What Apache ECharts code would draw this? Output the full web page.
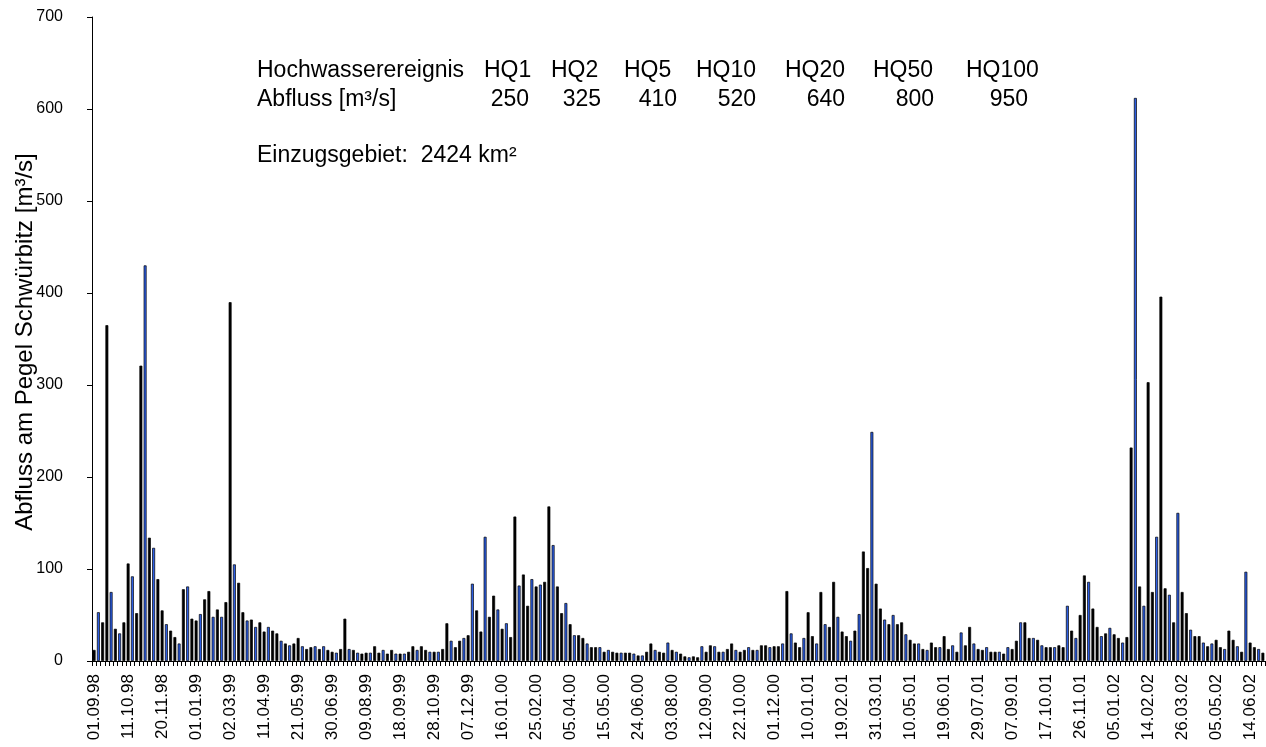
<!DOCTYPE html>
<html>
<head>
<meta charset="utf-8">
<script src="https://cdn.jsdelivr.net/npm/echarts@6/dist/echarts.min.js"></script>
<style>
  html, body { margin: 0; padding: 0; background: #fff; }
  #chart { width: 1266px; height: 747px; }
</style>
</head>
<body>
<div id="chart"></div>
<script>
// Date labels, one for every 8th five-day value
const dateLabels = [
  '01.09.98', '11.10.98', '20.11.98', '01.01.99', '02.03.99', '11.04.99', '21.05.99',
  '30.06.99', '09.08.99', '18.09.99', '28.10.99', '07.12.99', '16.01.00', '25.02.00',
  '05.04.00', '15.05.00', '24.06.00', '03.08.00', '12.09.00', '22.10.00', '01.12.00',
  '10.01.01', '19.02.01', '31.03.01', '10.05.01', '19.06.01', '29.07.01', '07.09.01',
  '17.10.01', '26.11.01', '05.01.02', '14.02.02', '26.03.02', '05.05.02', '14.06.02'
];

// Discharge at gauge Schwürbitz [m³/s]
const flow = [
  12, 53, 42, 365, 75, 35, 30, 42,
  106, 92, 52, 321, 430, 134, 123, 89,
  55, 40, 33, 26, 19, 78, 81, 46,
  44, 51, 67, 76, 48, 56, 48, 64,
  390, 105, 85, 53, 44, 45, 37, 42,
  32, 37, 33, 30, 22, 19, 17, 19,
  25, 16, 13, 15, 16, 13, 16, 12,
  10, 9, 13, 46, 13, 12, 9, 8,
  9, 9, 16, 9, 12, 8, 12, 8,
  8, 8, 10, 16, 12, 16, 12, 10,
  10, 10, 13, 41, 22, 15, 22, 25,
  28, 84, 55, 32, 135, 48, 71, 56,
  35, 41, 26, 157, 82, 94, 60, 89,
  81, 83, 86, 168, 126, 81, 52, 63,
  40, 28, 28, 25, 19, 15, 15, 15,
  10, 12, 10, 9, 9, 9, 9, 8,
  6, 6, 10, 19, 12, 10, 9, 20,
  12, 10, 8, 5, 4, 5, 4, 16,
  10, 17, 16, 10, 10, 13, 19, 12,
  10, 12, 15, 12, 12, 17, 17, 15,
  16, 16, 19, 76, 30, 20, 15, 25,
  53, 27, 19, 75, 40, 37, 86, 48,
  32, 27, 22, 33, 51, 119, 101, 249,
  84, 57, 45, 40, 50, 40, 42, 29,
  23, 19, 19, 13, 12, 20, 15, 15,
  27, 13, 17, 10, 31, 17, 37, 19,
  13, 12, 15, 10, 10, 10, 8, 15,
  13, 22, 42, 42, 25, 25, 23, 17,
  15, 15, 15, 17, 15, 60, 33, 25,
  50, 93, 86, 57, 37, 27, 30, 36,
  29, 25, 20, 26, 232, 612, 81, 60,
  303, 75, 135, 396, 79, 72, 42, 161,
  75, 52, 34, 27, 27, 20, 16, 19,
  23, 15, 13, 33, 23, 16, 10, 97,
  20, 15, 13, 9
];

// Flood statistics and catchment
const hqNames = ['HQ1', 'HQ2', 'HQ5', 'HQ10', 'HQ20', 'HQ50', 'HQ100'];
const hqFlows = [250, 325, 410, 520, 640, 800, 950];
const catchmentKm2 = 2424;

// Bars drawn with the blue fill (the rest are solid black)
const blueBars = [
  1, 4, 6, 9, 12, 14, 17, 20, 22, 25, 28, 30, 33, 36, 38, 41, 44, 46, 49, 52, 54, 57, 60, 62,
  65, 68, 71, 73, 76, 79, 81, 84, 87, 89, 92, 95, 97, 100, 103, 105, 108, 111, 113, 116, 119,
  121, 124, 127, 129, 132, 135, 137, 140, 143, 146, 148, 151, 154, 156, 159, 162, 164, 167,
  170, 172, 175, 178, 180, 183, 186, 188, 191, 194, 196, 199, 202, 204, 207, 210, 213, 215,
  218, 221, 223, 226, 229, 231, 234, 237, 239, 242, 245, 247, 250, 253, 255, 258, 261, 263,
  266, 269, 271, 274
];

const FONT = "'Liberation Sans', Arial, sans-serif";
const BLUE = '#2d5fe6';
const blueSet = new Set(blueBars);

const categories = flow.map((_, i) => 'p' + i);
const barData = flow.map((v, i) => ({
  value: v,
  itemStyle: { color: blueSet.has(i) ? BLUE : '#000' }
}));

// Flood table laid out in columns
const hqLeft = [484, 551, 624, 696, 785, 873, 966];
const valRight = [529, 601, 677, 756, 845, 934, 1028];
const tableFont = '23px ' + FONT;
const graphics = [
  { type: 'text', x: 257, y: 71, style: { text: 'Hochwasserereignis', font: tableFont, fill: '#000', textVerticalAlign: 'middle' } },
  { type: 'text', x: 257, y: 100, style: { text: 'Abfluss [m³/s]', font: tableFont, fill: '#000', textVerticalAlign: 'middle' } },
  { type: 'text', x: 257, y: 156, style: { text: 'Einzugsgebiet:  ' + catchmentKm2 + ' km²', font: tableFont, fill: '#000', textVerticalAlign: 'middle' } }
];
hqNames.forEach((name, i) => {
  graphics.push({ type: 'text', x: hqLeft[i], y: 71, style: { text: name, font: tableFont, fill: '#000', textVerticalAlign: 'middle' } });
  graphics.push({ type: 'text', x: valRight[i], y: 100, style: { text: String(hqFlows[i]), font: tableFont, fill: '#000', textAlign: 'right', textVerticalAlign: 'middle' } });
});
// Vertical axis title
graphics.push({
  type: 'text', x: 25, y: 342, rotation: Math.PI / 2,
  style: { text: 'Abfluss am Pegel Schwürbitz [m³/s]', font: '24px ' + FONT, fill: '#000', textAlign: 'center', textVerticalAlign: 'middle' }
});

const chart = echarts.init(document.getElementById('chart'), null, { renderer: 'canvas' });
chart.setOption({
  backgroundColor: '#fff',
  animation: false,
  grid: { left: 92, right: 1, top: 17, bottom: 86, containLabel: false, outerBoundsMode: 'none' },
  xAxis: {
    type: 'category',
    data: categories,
    boundaryGap: true,
    axisLine: { show: true, lineStyle: { color: '#000', width: 1 } },
    axisTick: { show: true, interval: 0, alignWithLabel: false, length: 5, lineStyle: { color: '#000' } },
    axisLabel: {
      interval: 7,
      rotate: 90,
      margin: 13,
      color: '#000',
      fontFamily: FONT,
      fontSize: 17,
      formatter: (v, idx) => dateLabels[idx / 8] || ''
    },
    splitLine: { show: false }
  },
  yAxis: {
    type: 'value',
    min: 0,
    max: 700,
    interval: 100,
    axisLine: { show: true, lineStyle: { color: '#000', width: 1 } },
    axisTick: { show: true, length: 5, lineStyle: { color: '#000' } },
    axisLabel: { color: '#000', fontFamily: FONT, fontSize: 16, margin: 29 },
    splitLine: { show: false }
  },
  series: [{
    type: 'bar',
    data: barData,
    barWidth: 2.9,
    itemStyle: { borderColor: '#000', borderWidth: 0.7 }
  }],
  graphic: graphics
});
</script>
</body>
</html>
